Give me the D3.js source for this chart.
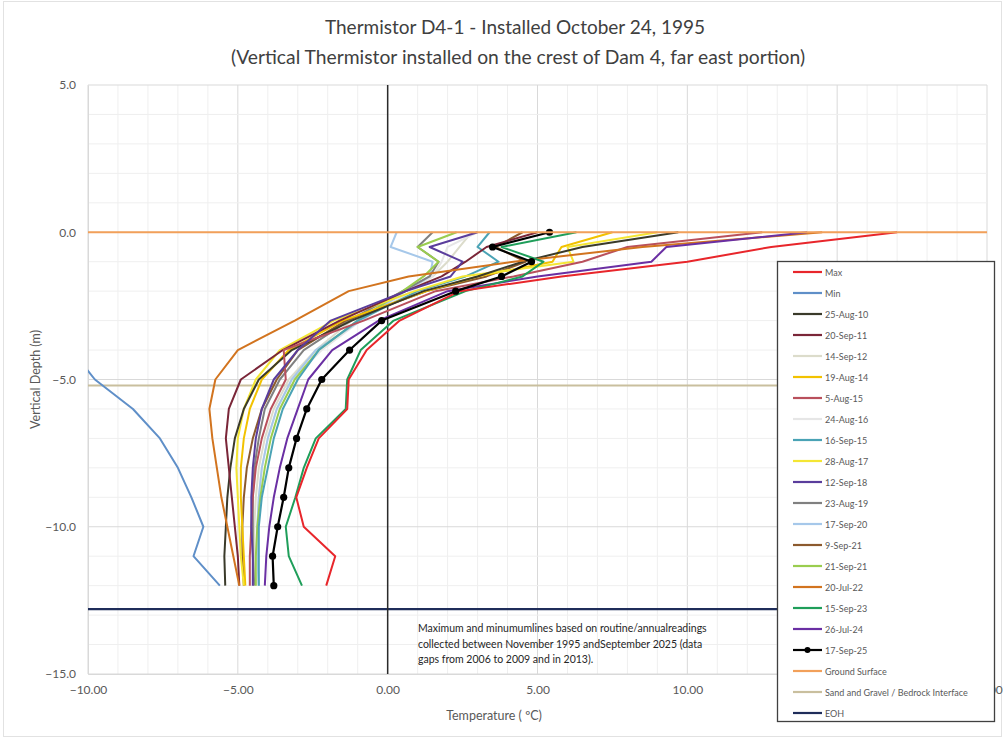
<!DOCTYPE html>
<html><head><meta charset="utf-8">
<script src="https://cdn.jsdelivr.net/npm/d3@7"></script>
<style>
html,body{margin:0;padding:0;background:#fff;}
svg{display:block;font-family:Lato,"Open Sans",sans-serif;}
</style></head>
<body><svg id="c" width="1006" height="740"></svg>
<script>
// ---- data ----
const depths = [0, -0.5, -1, -1.5, -2, -3, -4, -5, -6, -7, -8, -9, -10, -11, -12];
const maxT   = [17.0, 12.8, 10.0, 5.8, 2.4, 0.4, -0.7, -1.3, -1.35, -2.3, -2.7, -3.05, -2.8, -1.75, -2.05];
const minT   = [-24, -21, -19, -17, -15, -12.5, -10.55, -9.77, -8.5, -7.6, -7.0, -6.55, -6.15, -6.48, -5.6];
const t100825 = [9.7, 6.5, 4.5, 3.0, 1.2, -1.2, -3.2, -4.3, -4.8, -5.1, -5.25, -5.35, -5.4, -5.45, -5.42];
const t110920 = [5.0, 3.3, 2.6, 1.8, 0.6, -1.6, -3.5, -4.9, -5.3, -5.4, -5.3, -5.2, -5.1, -5.0, -4.95];
const t120914 = [2.8, 2.4, 2.0, 1.5, 0.5, -1.2, -2.4, -3.3, -3.8, -4.1, -4.3, -4.4, -4.45, -4.45, -4.4];
const t140819 = [7.5, 5.8, 5.5, 3.0, 1.3, -1.5, -3.3, -4.2, -4.6, -4.8, -4.9, -4.9, -4.85, -4.8, -4.75];
const t150805 = [12.5, 8.0, 6.5, 4.2, 1.6, -0.8, -3.47, -3.4, -3.9, -4.2, -4.4, -4.5, -4.55, -4.6, -4.6];
const t160824 = [3.0, 2.0, 1.8, 1.5, 0.8, -0.9, -2.2, -3.2, -3.7, -4.0, -4.2, -4.3, -4.35, -4.35, -4.3];
const t150916 = [3.4, 3.0, 3.7, 2.6, 1.0, -1.0, -2.3, -3.0, -3.5, -3.8, -4.0, -4.2, -4.3, -4.3, -4.3];
const t170828 = [9.0, 6.0, 6.2, 2.5, 0.9, -1.8, -3.6, -4.4, -4.8, -5.0, -5.05, -5.0, -4.95, -4.9, -4.8];
const t180912 = [3.0, 1.4, 2.5, 2.1, 0.6, -1.9, -3.0, -3.8, -4.2, -4.4, -4.5, -4.55, -4.55, -4.5, -4.5];
const t190823 = [1.5, 1.0, 1.7, 1.4, 0.5, -1.3, -2.8, -3.6, -4.1, -4.3, -4.45, -4.5, -4.5, -4.5, -4.45];
const t200917 = [0.3, 0.1, 1.5, 1.4, 0.6, -0.9, -2.4, -3.2, -3.7, -4.0, -4.2, -4.3, -4.35, -4.35, -4.3];
const t210909 = [4.5, 3.6, 4.6, 3.3, 1.3, -1.4, -3.0, -3.7, -4.2, -4.5, -4.7, -4.8, -4.85, -4.85, -4.8];
const t210921 = [2.3, 1.0, 1.7, 1.2, 0.5, -1.0, -2.3, -3.1, -3.6, -3.9, -4.1, -4.25, -4.35, -4.4, -4.4];
const t220720 = [14.5, 8.5, 4.2, 0.7, -1.3, -3.1, -5.0, -5.75, -5.95, -5.85, -5.7, -5.55, -5.35, -5.15, -4.95];
const t230915 = [6.3, 3.8, 5.2, 4.5, 2.6, 0.2, -0.9, -1.35, -1.4, -2.4, -2.8, -3.08, -3.4, -3.3, -2.86];
const t240726 = [14.0, 9.3, 8.8, 5.0, 2.0, -0.3, -1.85, -2.65, -3.0, -3.35, -3.6, -3.8, -3.95, -4.05, -4.1];
const t250917 = [5.4, 3.5, 4.8, 3.8, 2.27, -0.2, -1.27, -2.2, -2.7, -3.04, -3.3, -3.47, -3.67, -3.84, -3.8];
const groundSurface = 0.0;
const bedrockInterface = -5.2;
const eohDepth = -12.8;
const seriesNames = ["Max","Min","25-Aug-10","20-Sep-11","14-Sep-12","19-Aug-14","5-Aug-15","24-Aug-16","16-Sep-15","28-Aug-17","12-Sep-18","23-Aug-19","17-Sep-20","9-Sep-21","21-Sep-21","20-Jul-22","15-Sep-23","26-Jul-24","17-Sep-25"];
const seriesValues = [maxT,minT,t100825,t110920,t120914,t140819,t150805,t160824,t150916,t170828,t180912,t190823,t200917,t210909,t210921,t220720,t230915,t240726,t250917];
const xTicks = [-10, -5, 0, 5, 10, 20];   // 15.00 is hidden behind the legend in the reference
const yTicks = [5, 0, -5, -10, -15];
const refNames = ["Ground Surface","Sand and Gravel / Bedrock Interface","EOH"];
const refValues = [groundSurface, bedrockInterface, eohDepth];
// ---- styles ----
const seriesColors = ["#e8262b","#5f8fc8","#3a3a2a","#7a2638","#dcdccb","#f2c200","#b9505c","#e6e6e6","#4aa3b5","#f4e634","#5a3d9c","#808080","#a6c8ea","#8c5a2e","#9acd4f","#d2741f","#1f9e5a","#6a2fa3","#000000"];
const refColors = ["#f2a05a","#c9bf9e","#1f2d5a"];

const svg = d3.select("#c");
const L = 88, R = 987, T = 85, B = 674;
const x = d3.scaleLinear().domain([-10, 20]).range([L, R]);
const y = d3.scaleLinear().domain([-15, 5]).range([B, T]);

// outer frame
svg.append("rect").attr("x",3.5).attr("y",1.5).attr("width",998).attr("height",735)
  .attr("fill","#fff").attr("stroke","#e2e2e2");

// gridlines
const g = svg.append("g");
g.selectAll(".vmin").data(d3.range(-10, 21, 1)).join("line")
  .attr("x1", d=>x(d)).attr("x2", d=>x(d)).attr("y1", T).attr("y2", B)
  .attr("stroke", d=> d%5===0 ? "#d9d9d9" : "#efefef").attr("stroke-width",1);
g.selectAll(".hmin").data(d3.range(-15, 6, 1)).join("line")
  .attr("y1", d=>y(d)).attr("y2", d=>y(d)).attr("x1", L).attr("x2", R)
  .attr("stroke", d=> d%5===0 ? "#d9d9d9" : "#efefef").attr("stroke-width",1);

// axes (labels)
const yAxis = d3.axisLeft(y).tickValues(yTicks).tickFormat(d3.format(".1f")).tickSize(0).tickPadding(12);
svg.append("g").attr("transform",`translate(${L},0)`).call(yAxis)
  .call(a=>{a.select(".domain").attr("stroke","#d9d9d9");a.selectAll("text").attr("fill","#595959").attr("font-size",12).attr("font-family","Lato, sans-serif");});
const xAxis = d3.axisBottom(x).tickValues(xTicks).tickFormat(d3.format(".2f")).tickSize(0).tickPadding(11);
svg.append("g").attr("transform",`translate(0,${B})`).call(xAxis)
  .call(a=>{a.select(".domain").attr("stroke","#d9d9d9");a.selectAll("text").attr("fill","#595959").attr("font-size",12).attr("font-family","Lato, sans-serif");});

// clip
svg.append("clipPath").attr("id","pc").append("rect").attr("x",L).attr("y",T).attr("width",R-L).attr("height",B-T);
const plot = svg.append("g").attr("clip-path","url(#pc)");

// reference lines: bedrock, EOH
plot.append("line").attr("x1",L).attr("x2",R).attr("y1",y(refValues[1])).attr("y2",y(refValues[1]))
  .attr("stroke",refColors[1]).attr("stroke-width",2);
plot.append("line").attr("x1",L).attr("x2",R).attr("y1",y(refValues[2])).attr("y2",y(refValues[2]))
  .attr("stroke",refColors[2]).attr("stroke-width",2.2);

// zero line
plot.append("line").attr("x1",x(0)).attr("x2",x(0)).attr("y1",T).attr("y2",B)
  .attr("stroke","#2a2a2a").attr("stroke-width",1.5);

// series
const line = d3.line().x(d=>x(d[1])).y(d=>y(d[0]));
const drawOrder = [4,7,12,11,14,8,13,5,9,2,3,6,10,15,17,1,16,0,18];
drawOrder.forEach(i=>{
  const pts = depths.map((d,k)=>[d, seriesValues[i][k]]);
  plot.append("path").datum(pts).attr("d",line).attr("fill","none")
    .attr("stroke",seriesColors[i]).attr("stroke-width", i===18?2.2:2).attr("stroke-linejoin","round");
  if(i===18){
    plot.selectAll(".dot").data(pts).join("circle").attr("cx",d=>x(d[1])).attr("cy",d=>y(d[0]))
      .attr("r",3.6).attr("fill","#000");
  }
});

// ground surface
plot.append("line").attr("x1",L).attr("x2",R).attr("y1",y(refValues[0])).attr("y2",y(refValues[0]))
  .attr("stroke",refColors[0]).attr("stroke-width",2.2);

// title
svg.append("text").attr("x",515).attr("y",34).attr("text-anchor","middle").attr("font-size",19)
  .attr("fill","#404040").text("Thermistor D4-1 - Installed October 24, 1995");
svg.append("text").attr("x",518).attr("y",64).attr("text-anchor","middle").attr("font-size",19.3)
  .attr("fill","#404040").text("(Vertical Thermistor installed on the crest of Dam 4, far east portion)");

// axis titles
svg.append("text").attr("transform",`translate(40,${y(-5)}) rotate(-90)`).attr("text-anchor","middle")
  .attr("font-size",12.5).attr("fill","#595959").text("Vertical Depth (m)");
svg.append("text").attr("x",494).attr("y",720).attr("text-anchor","middle").attr("font-size",12.5)
  .attr("fill","#595959").text("Temperature ( ºC)");

// note
const note = ["Maximum and minumumlines based on routine/annualreadings",
  "collected between November 1995 andSeptember 2025 (data",
  "gaps from 2006 to 2009 and in 2013)."];
svg.append("g").selectAll("text").data(note).join("text").attr("x",418).attr("y",(d,i)=>632+i*15.5)
  .attr("font-size",10.5).attr("fill","#262626").text(d=>d);

// legend
const lg = svg.append("g");
lg.append("rect").attr("x",777.5).attr("y",261.5).attr("width",217).attr("height",460)
  .attr("fill","#fff").attr("stroke","#404040").attr("stroke-width",1.3);
const legItems = seriesNames.map((n,i)=>({n, c:seriesColors[i], dot:i===18}))
  .concat(refNames.map((n,i)=>({n, c:refColors[i], dot:false})));
const rows = lg.selectAll(".row").data(legItems).join("g")
  .attr("transform",(d,i)=>`translate(0,${272+i*21})`);
rows.append("line").attr("x1",793).attr("x2",822).attr("stroke",d=>d.c).attr("stroke-width",2.2);
rows.filter(d=>d.dot).append("circle").attr("cx",807.5).attr("r",3).attr("fill","#000");
rows.append("text").attr("x",825).attr("y",3.5).attr("font-size",9).attr("fill","#595959").text(d=>d.n);
</script></body></html>
